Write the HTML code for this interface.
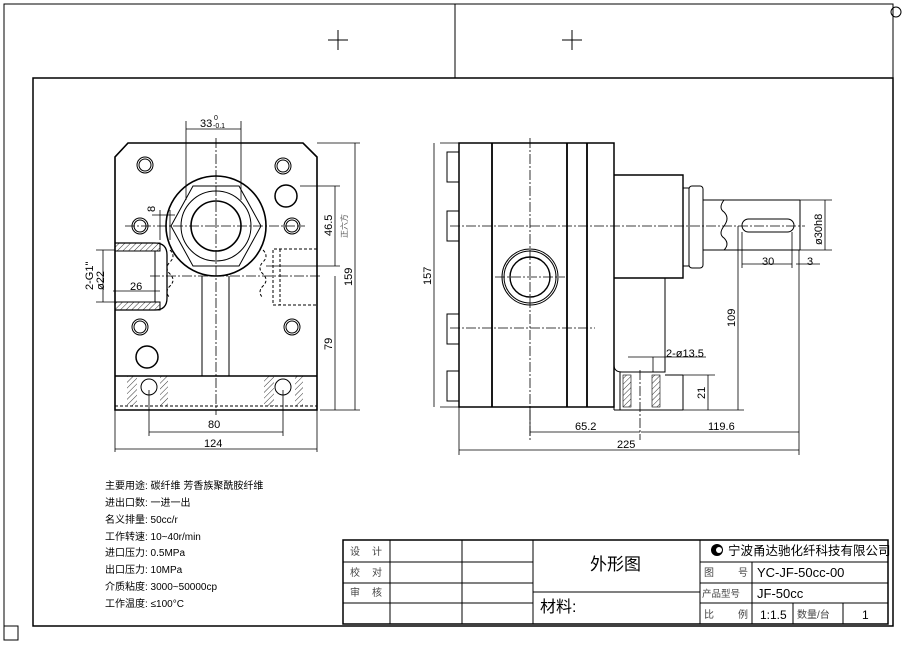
<!DOCTYPE html>
<html><head><meta charset="utf-8"><style>
html,body{margin:0;padding:0;background:#fff;}
svg{display:block;font-family:"Liberation Sans","Noto Sans CJK SC",sans-serif;}
</style></head><body>
<svg width="910" height="645" viewBox="0 0 910 645" xmlns="http://www.w3.org/2000/svg">
<defs>
<pattern id="h" width="4" height="4" patternUnits="userSpaceOnUse" patternTransform="rotate(45)"><line x1="0" y1="0" x2="0" y2="4" stroke="#000" stroke-width="0.8"/></pattern>
</defs>
<g fill="none" stroke="#000" stroke-width="1">
<!-- frames -->
<polyline points="4,640 4,4 893,4 893,626"/>
<line x1="455" y1="4" x2="455" y2="78"/>
<rect x="33" y="78" width="860" height="548" stroke-width="1.5"/>
<rect x="4" y="626" width="14" height="14"/>
<circle cx="896" cy="12" r="5"/>
<path d="M328 40h20M338 30v20M562 40h20M572 30v20"/>

<!-- LEFT VIEW -->
<path d="M128 143H303L317 157V410H115V157Z" stroke-width="1.6"/>
<line x1="115" y1="376" x2="317" y2="376" stroke-width="1.4"/>
<line x1="115" y1="406" x2="317" y2="406" stroke-dasharray="3,2"/>
<circle cx="216" cy="226" r="50" stroke-width="1.6"/>
<polygon points="171,226 193,186 239,186 261,226 239,266 193,266"/>
<circle cx="216" cy="226" r="35"/>
<circle cx="216" cy="226" r="25" stroke-width="1.6"/>
<line x1="202" y1="276" x2="202" y2="376"/><line x1="229" y1="276" x2="229" y2="376"/>
<g>
<circle cx="145" cy="165" r="8"/><circle cx="145" cy="165" r="6"/>
<circle cx="283" cy="166" r="8"/><circle cx="283" cy="166" r="6"/>
<circle cx="140" cy="226" r="8"/><circle cx="140" cy="226" r="6"/>
<circle cx="292" cy="226" r="8"/><circle cx="292" cy="226" r="6"/>
<circle cx="140" cy="327" r="8"/><circle cx="140" cy="327" r="6"/>
<circle cx="292" cy="327" r="8"/><circle cx="292" cy="327" r="6"/>
<circle cx="286" cy="196" r="11" stroke-width="1.5"/>
<circle cx="147" cy="357" r="11" stroke-width="1.5"/>
<circle cx="149" cy="387" r="8"/><circle cx="283" cy="387" r="8"/>
</g>
<!-- left port hatched -->
<path d="M115 243H155Q167 243 167 255V298Q167 310 155 310H115" stroke-width="1.3"/>
<rect x="115" y="243" width="45" height="8" fill="url(#h)"/>
<rect x="115" y="302" width="45" height="8" fill="url(#h)"/>
<path d="M155 251V302" />
<path d="M170 250q6 6 0 12q-6 6 0 12q6 6 0 12q-6 6 0 12" stroke-dasharray="3,2"/>
<!-- right port dashed -->
<path d="M317 249H273V305H317M280 249V305" stroke-dasharray="3,2"/>
<path d="M263 250q6 6 0 12q-6 6 0 12q6 6 0 12q-6 6 0 12" stroke-dasharray="3,2"/>
<!-- bottom hatch -->
<rect x="127" y="376" width="10" height="30" fill="url(#h)" stroke="none"/>
<rect x="160" y="376" width="8" height="30" fill="url(#h)" stroke="none"/>
<rect x="264" y="376" width="10" height="30" fill="url(#h)" stroke="none"/>
<rect x="295" y="376" width="8" height="30" fill="url(#h)" stroke="none"/>
<!-- centerlines -->
<g stroke-width="0.8" stroke-dasharray="10,2,2,2">
<line x1="216" y1="138" x2="216" y2="415"/>
<line x1="150" y1="276" x2="320" y2="276"/>
<line x1="125" y1="226" x2="305" y2="226"/>
</g>
<!-- dims left -->
<g stroke-width="0.8">
<path d="M186 121V200M241 121V200M186 129H241"/>
<path d="M317 143H360M320 410H360M355 143V410"/>
<path d="M266 266H340M300 186H340M335 186V266"/>
<path d="M335 276V410"/>
<path d="M149 390V436M283 390V436M149 432H283"/>
<path d="M115 410V452M317 410V452M115 449H317"/>
<path d="M160 210V240M170 210V240M152 215H175"/>
<path d="M103 250V302M96 250H115M96 302H115"/>
<path d="M113 291H160"/>
</g>

<!-- RIGHT VIEW -->
<rect x="459" y="143" width="155" height="264" stroke-width="1.5"/>
<g stroke-width="1.8"><line x1="492" y1="143" x2="492" y2="407"/><line x1="567" y1="143" x2="567" y2="407"/><line x1="587" y1="143" x2="587" y2="407"/></g>
<rect x="447" y="152" width="12" height="30"/><rect x="447" y="211" width="12" height="30"/>
<rect x="447" y="314" width="12" height="30"/><rect x="447" y="371" width="12" height="30"/>
<path d="M614 175H683V278H614" stroke-width="1.4"/>
<path d="M614 278V365Q614 372 622 372H665V278"/>
<path d="M620 372V410M683 375V410M614 410H683M614 407V410M665 375H683"/>
<rect x="623" y="375" width="8" height="32" fill="url(#h)" stroke-width="0.6"/>
<rect x="652" y="375" width="8" height="32" fill="url(#h)" stroke-width="0.6"/>
<rect x="683" y="188" width="6" height="78"/>
<rect x="689" y="186" width="14" height="82" rx="3"/>
<path d="M703 200H800M703 250H800M800 200V250"/>
<path d="M724 200q-6 8 0 12q6 6 0 14q-6 8 0 12q6 6 0 12" />
<rect x="742" y="219" width="52" height="13" rx="6.5"/>
<circle cx="530" cy="277" r="28"/><circle cx="530" cy="277" r="26"/><circle cx="530" cy="277" r="20" stroke-width="1.4"/>
<g stroke-width="0.8" stroke-dasharray="10,2,2,2">
<line x1="450" y1="226" x2="805" y2="226"/>
<line x1="530" y1="138" x2="530" y2="440"/>
<line x1="450" y1="328" x2="595" y2="328"/>
<line x1="495" y1="277" x2="565" y2="277"/>
<line x1="640" y1="370" x2="640" y2="440"/>
</g>
<g stroke-width="0.8">
<path d="M440 143H459M440 407H459M434 143V407"/>
<path d="M459 407V455M799 250V455M459 450H799"/>
<path d="M530 407V436M530 432H640M641 432H799"/>
<path d="M738 226V410M683 410H744"/>
<path d="M683 375H715M708 375V410"/>
<path d="M628 357H706M653 357V372"/>
<path d="M742 232V268M792 232V268M742 264H792M796 264H820"/>
<path d="M800 200H832M800 250H832M825 200V250"/>
</g>

<!-- title block -->
<g stroke-width="1">
<rect x="343" y="540" width="545" height="84" stroke-width="1.5"/>
<path d="M343 562H533M343 583H533M343 603H533"/>
<path d="M700 562H888M700 583H888M700 603H888"/>
<path d="M533 592H700"/>
<path d="M390 540V624M462 540V624M533 540V624M700 540V624M752 562V624M793 603V624M843 603V624"/>
</g>
</g>

<!-- TEXT -->
<g font-size="11" fill="#000">
<text x="200" y="127">33</text><text x="214" y="120" font-size="7">0</text><text x="213" y="128" font-size="7">-0.1</text>
<text x="155" y="212" transform="rotate(-90 155 212)">8</text>
<text x="332" y="236" transform="rotate(-90 332 236)">46.5</text>
<text x="347" y="238" transform="rotate(-90 347 238)" font-size="8" fill="#555">正六方</text>
<text x="352" y="286" transform="rotate(-90 352 286)">159</text>
<text x="332" y="350" transform="rotate(-90 332 350)">79</text>
<text x="93" y="290" transform="rotate(-90 93 290)">2-G1"</text>
<text x="104" y="290" transform="rotate(-90 104 290)">ø22</text>
<text x="130" y="290">26</text>
<text x="208" y="428">80</text>
<text x="204" y="447">124</text>
<text x="431" y="285" transform="rotate(-90 431 285)">157</text>
<text x="735" y="327" transform="rotate(-90 735 327)">109</text>
<text x="705" y="399" transform="rotate(-90 705 399)">21</text>
<text x="666" y="357">2-ø13.5</text>
<text x="575" y="430">65.2</text>
<text x="708" y="430">119.6</text>
<text x="617" y="448">225</text>
<text x="762" y="265">30</text>
<text x="807" y="265">3</text>
<text x="822" y="245" transform="rotate(-90 822 245)">ø30h8</text>
</g>
<g font-size="10" fill="#000">
<text x="105" y="489">主要用途: 碳纤维  芳香族聚酰胺纤维</text>
<text x="105" y="506">进出口数: 一进一出</text>
<text x="105" y="523">名义排量: 50cc/r</text>
<text x="105" y="540">工作转速: 10~40r/min</text>
<text x="105" y="556">进口压力: 0.5MPa</text>
<text x="105" y="573">出口压力: 10MPa</text>
<text x="105" y="590">介质粘度: 3000~50000cp</text>
<text x="105" y="607">工作温度: ≤100°C</text>
</g>
<g font-size="10" fill="#444">
<text x="350" y="555">设</text><text x="372" y="555">计</text>
<text x="350" y="576">校</text><text x="372" y="576">对</text>
<text x="350" y="596">审</text><text x="372" y="596">核</text>
<text x="704" y="576">图</text><text x="738" y="576">号</text>
<text x="702" y="597" font-size="9.5">产品型号</text>
<text x="704" y="618">比</text><text x="738" y="618">例</text>
<text x="797" y="618">数量/台</text>
</g>
<g fill="#000">
<text x="590" y="570" font-size="17">外形图</text>
<text x="540" y="612" font-size="16">材料:</text>
<circle cx="717" cy="550" r="6"/><circle cx="719" cy="550" r="3" fill="#fff"/>
<text x="728" y="555" font-size="12.5">宁波甬达驰化纤科技有限公司</text>
<text x="757" y="577" font-size="13">YC-JF-50cc-00</text>
<text x="757" y="598" font-size="13">JF-50cc</text>
<text x="760" y="619" font-size="12">1:1.5</text>
<text x="862" y="619" font-size="12">1</text>
</g>
</svg>
</body></html>
